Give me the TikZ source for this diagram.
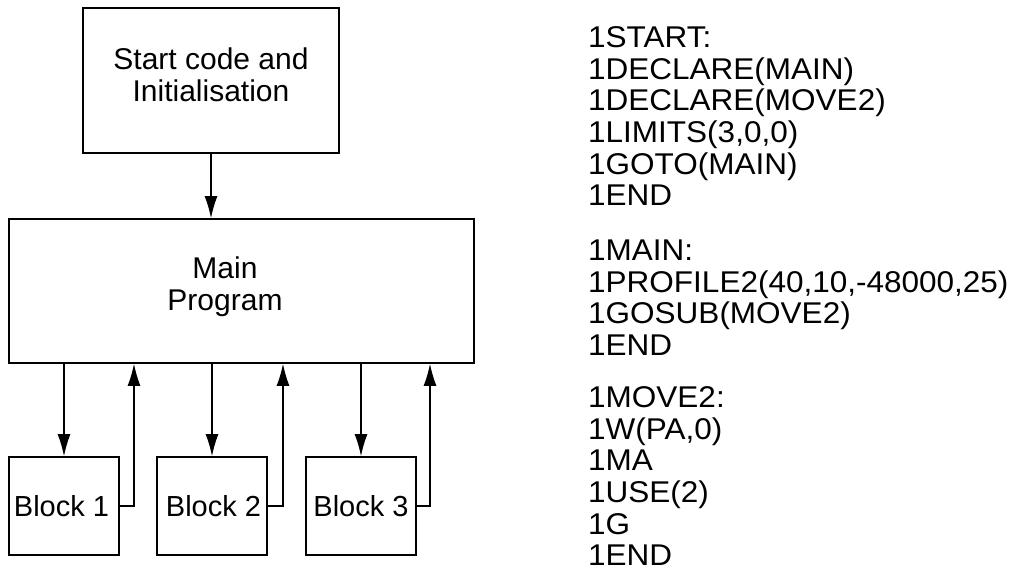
\documentclass[tikz,border=0pt]{standalone}
\usepackage{fontspec}
\setmainfont{Liberation Sans}
\newfontfamily\listfont[FakeStretch=1.05]{Liberation Sans}
\usetikzlibrary{arrows.meta,positioning}

\tikzset{
    box/.style={draw, line width=1.8pt, inner sep=0pt, font=\fontsize{30}{32}\selectfont},
    txt/.style={align=center, inner sep=0pt, font=\fontsize{30}{32}\selectfont},
    flow/.style={line width=1.1pt, -{Latex[length=22pt,width=13pt]}}
}

\begin{document}
\begin{tikzpicture}[x=1pt, y=-1pt]
    \useasboundingbox (0,0) rectangle (1019,572);

    % start and main program
    \node[box, minimum width=256pt, minimum height=145pt] (start) at (211, 80.5) {};
    \node[txt] (starttxt) at (211, 75) {Start code and\\Initialisation};
    \node[box, minimum width=465pt, minimum height=144pt] (main) at (241.5, 291) {};
    \node[txt] (maintxt) at (225, 287) {Main\\Program};

    % blocks
    \node[box, minimum width=110pt, minimum height=98pt, font=\fontsize{29}{32}\selectfont] (blk1) at (64, 506) {};
    \node[box, minimum width=110pt, minimum height=98pt] (blk2) at (212, 506) {};
    \node[box, minimum width=110pt, minimum height=98pt] (blk3) at (361, 506) {};
    \node[txt, font=\fontsize{29}{32}\selectfont] (blk1txt) at (61.5, 506) {Block 1};
    \node[txt, font=\fontsize{29}{32}\selectfont] (blk2txt) at (213.5, 506) {Block 2};
    \node[txt, font=\fontsize{29}{32}\selectfont] (blk3txt) at (361, 506) {Block 3};

    \coordinate (ret1) at (134, 363);
    \coordinate (ret2) at (283, 363);
    \coordinate (ret3) at (430, 363);

    \draw[flow] (start.south) -- (start.south |- main.north);
    \draw[flow] (main.south -| blk1.north) -- (blk1.north);
    \draw[flow] (main.south -| blk2.north) -- (blk2.north);
    \draw[flow] (main.south -| blk3.north) -- (blk3.north);
    \draw[flow] (blk1.east) -| (ret1 |- main.south);
    \draw[flow] (blk2.east) -| (ret2 |- main.south);
    \draw[flow] (blk3.east) -| (ret3 |- main.south);

    % program listing
    \node[anchor=north west, align=left, inner sep=0pt, font=\listfont\fontsize{30}{31.6}\selectfont] (code) at (588, 26.5) {%
        1START:\\
        1DECLARE(MAIN)\\
        1DECLARE(MOVE2)\\
        1LIMITS(3,0,0)\\
        1GOTO(MAIN)\\
        1END\\[23.4pt]
        1MAIN:\\
        1PROFILE2(40,10,-48000,25)\\
        1GOSUB(MOVE2)\\
        1END\\[20.6pt]
        1MOVE2:\\
        1W(PA,0)\\
        1MA\\
        1USE(2)\\
        1G\\
        1END};
\end{tikzpicture}
\end{document}
